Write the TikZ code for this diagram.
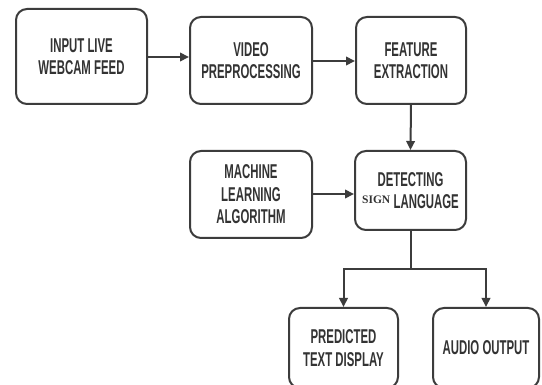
\documentclass[tikz,border=0pt]{standalone}
\usepackage{fontspec}
\usetikzlibrary{arrows.meta}
\newfontfamily\condfont[FakeStretch=0.57]{Liberation Sans Bold}
\newfontfamily\signfont{Liberation Serif Bold}
\definecolor{ink}{HTML}{3C3C3C}
\definecolor{txt}{HTML}{333333}
\tikzset{
  box/.style={draw=ink, line width=2pt, rounded corners=11pt, fill=white,
    align=center, inner sep=0pt, text=txt,
    font=\fontsize{20}{22.5}\condfont},
  arr/.style={draw=ink, line width=2pt, -{Triangle[length=9pt,width=8.5pt]}},
  ln/.style={draw=ink, line width=2pt}
}
\begin{document}
\begin{tikzpicture}[x=1pt,y=-1pt]
\useasboundingbox (0,0) rectangle (542,385);
\clip (0,0) rectangle (542,385);
\fill[white] (0,0) rectangle (542,385);
\node[box, minimum width=131pt, minimum height=95pt] (input) at (81.5,56.5) {INPUT LIVE\\WEBCAM FEED};
\node[box, minimum width=122pt, minimum height=87pt] (video) at (251,60.5) {VIDEO\\PREPROCESSING};
\node[box, minimum width=110pt, minimum height=87pt] (feat) at (411,60.5) {FEATURE\\EXTRACTION};
\node[box, minimum width=122pt, minimum height=87pt] (ml) at (251,194.5) {MACHINE\\LEARNING\\ALGORITHM};
\node[box, minimum width=111pt, minimum height=79pt] (det) at (410.5,190.5) {DETECTING\\{\fontsize{11.5}{11.5}\signfont\raisebox{5pt}{SIGN}}\,LANGUAGE};
\node[box, minimum width=109pt, minimum height=80pt] (pred) at (343.5,348) {PREDICTED\\TEXT DISPLAY};
\node[box, minimum width=106pt, minimum height=80pt] (audio) at (486,348) {AUDIO OUTPUT};
\coordinate (split) at (410.5,269);
\draw[arr] (input.east |- 0,57) -- (video.west |- 0,57);
\draw[arr] (video.east |- 0,61) -- (feat.west |- 0,61);
\draw[arr] (feat.south) -- (det.north);
\draw[arr] (ml.east |- 0,194) -- (det.west |- 0,194);
\draw[ln] (det.south) -- (split);
\draw[arr] (split) -| (pred.north);
\draw[arr] (split) -| (audio.north);
\end{tikzpicture}
\end{document}
